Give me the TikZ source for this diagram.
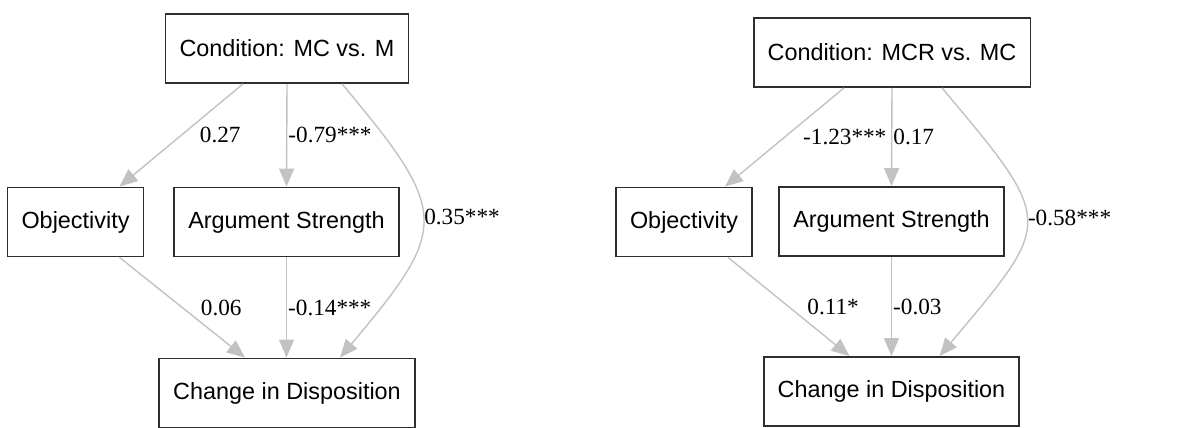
\documentclass[tikz,border=0pt]{standalone}
\usepackage{fontspec}
\setmainfont{Liberation Serif}
\setsansfont{Liberation Sans}
\usetikzlibrary{arrows.meta}
\definecolor{pathgray}{HTML}{C2C2C2}
\definecolor{boxgray}{HTML}{2E2E2E}
\tikzset{
  varbox/.style={
    rectangle,
    draw=boxgray,
    line width=0.9pt,
    inner xsep=7pt,
    minimum height=34.5pt,
    font=\sffamily\fontsize{11.7pt}{14pt}\selectfont
  },
  coef/.style={
    inner sep=0pt,
    font=\fontsize{11.6pt}{13pt}\selectfont
  },
  pathline/.style={-{Triangle[length=9pt,width=7.5pt]},draw=pathgray,line width=0.7pt}
}

\begin{document}
\begin{tikzpicture}[x=0.5pt,y=-0.5pt]
  \useasboundingbox (0,0) rectangle (1185,428);
  % left model: MC vs. M
  \node[varbox] (condA) at (287,48.5) {Condition: MC vs. M};
  \node[varbox] (objA) at (75.5,222) {Objectivity};
  \node[varbox] (argA) at (286.5,222) {Argument Strength};
  \node[varbox] (chgA) at (287,393) {Change in Disposition};
  \draw[pathline] ([xshift=-22pt]condA.south) -- ([xshift=22pt]objA.north)
    node[coef, midway, right=9pt] {0.27};
  \draw[pathline] (condA.south) -- (argA.north)
    node[coef, midway, right=0.5pt] {-0.79***};
  \draw[pathline] ([xshift=27.5pt]condA.south) to[out=-50,in=50,looseness=1.58]
    node[coef, pos=0.5, right=0.5pt, yshift=2pt] {0.35***} ([xshift=26.5pt]chgA.north);
  \draw[pathline] ([xshift=22pt]objA.south) -- ([xshift=-21pt]chgA.north)
    node[coef, midway, right=9pt] {0.06};
  \draw[pathline] (argA.south) -- (argA.south |- chgA.north)
    node[coef, midway, right=0.5pt] {-0.14***};
  % right model: MCR vs. MC
  \node[varbox] (condB) at (892,52.5) {Condition: MCR vs. MC};
  \node[varbox] (objB) at (684,222) {Objectivity};
  \node[varbox] (argB) at (891.5,221.5) {Argument Strength};
  \node[varbox] (chgB) at (891.5,391.5) {Change in Disposition};
  \draw[pathline] ([xshift=-24pt]condB.south) -- ([xshift=20.5pt]objB.north)
    node[coef, midway, right=9pt] {-1.23***};
  \draw[pathline] (condB.south) -- (argB.north)
    node[coef, midway, right=0.5pt] {0.17};
  \draw[pathline] ([xshift=25pt]condB.south) to[out=-50,in=50,looseness=1.69]
    node[coef, pos=0.5, right=0.5pt, yshift=2pt] {-0.58***} ([xshift=24pt]chgB.north);
  \draw[pathline] ([xshift=22pt]objB.south) -- ([xshift=-21pt]chgB.north)
    node[coef, midway, right=9pt] {0.11*};
  \draw[pathline] (argB.south) -- (argB.south |- chgB.north)
    node[coef, midway, right=0.5pt] {-0.03};
\end{tikzpicture}
\end{document}
